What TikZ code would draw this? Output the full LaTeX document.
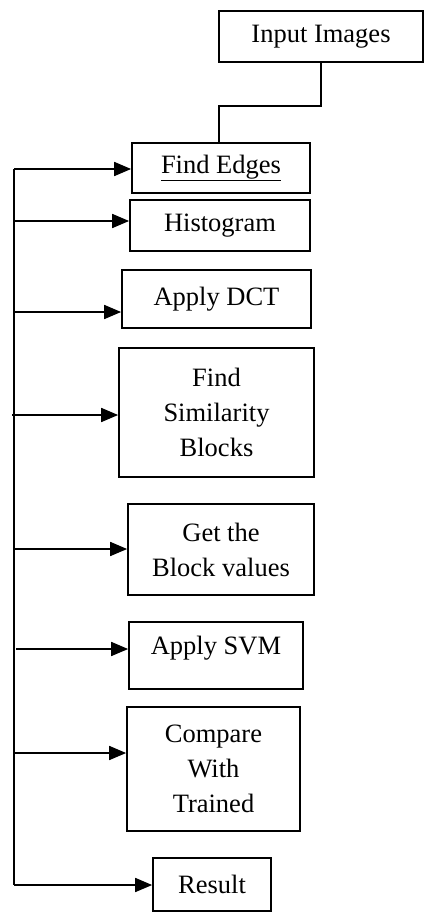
\documentclass[tikz,border=0pt]{standalone}
\usepackage{fontspec}
\setmainfont{Liberation Serif}
\usetikzlibrary{arrows.meta}
\begin{document}
\begin{tikzpicture}[x=1pt,y=-1pt,
  stepbox/.style={draw,line width=1.7pt,inner sep=0pt,align=center,
    font=\fontsize{26.5}{35}\selectfont},
  conn/.style={line width=1.7pt},
  arr/.style={line width=1.7pt,-{Triangle[length=17pt,width=14pt]}}]
\useasboundingbox (0,0) rectangle (424,912);
\node[stepbox,minimum width=204pt,minimum height=51pt] (in) at (321,36.5) {Input Images};
\node[stepbox,minimum width=178pt,minimum height=50pt] (fe) at (221,168) {\underline{Find Edges}};
\node[stepbox,minimum width=180pt,minimum height=51pt] (hi) at (220,225.5) {Histogram};
\node[stepbox,minimum width=189pt,minimum height=58pt] (dct) at (216.5,299) {Apply DCT};
\node[stepbox,minimum width=195pt,minimum height=129pt] (sim) at (216.5,412.5) {Find\\Similarity\\Blocks};
\node[stepbox,minimum width=186pt,minimum height=91pt] (gb) at (221,549.5) {Get the\\Block values};
\node[stepbox,minimum width=174pt,minimum height=67pt] (svm) at (216,655.5) {\raisebox{7pt}[\height][\depth]{Apply SVM}};
\node[stepbox,minimum width=173pt,minimum height=124pt] (cmp) at (213.5,769) {Compare\\With\\Trained};
\node[stepbox,minimum width=118pt,minimum height=53pt] (res) at (212,884.5) {Result};
% input connector
\coordinate (k) at (219,106);
\draw[conn] (in.south) |- (k) -- (k |- fe.north);
% bus
\coordinate (bt) at (14,169);
\coordinate (bb) at (14,885);
\draw[conn] (bt) -- (bb);
\coordinate (b1) at (14,169);
\coordinate (b2) at (14,221);
\coordinate (b3) at (14,312);
\coordinate (b4) at (12,415);
\coordinate (b5) at (14,549);
\coordinate (b6) at (16,649);
\coordinate (b7) at (14,753);
\coordinate (b8) at (14,885);
\draw[arr] (b1) -- (b1 -| fe.west);
\draw[arr] (b2) -- (b2 -| hi.west);
\draw[arr] (b3) -- (b3 -| dct.west);
\draw[arr] (b4) -- (b4 -| sim.west);
\draw[arr] (b5) -- (b5 -| gb.west);
\draw[arr] (b6) -- (b6 -| svm.west);
\draw[arr] (b7) -- (b7 -| cmp.west);
\draw[arr] (b8) -- (b8 -| res.west);
\end{tikzpicture}
\end{document}
